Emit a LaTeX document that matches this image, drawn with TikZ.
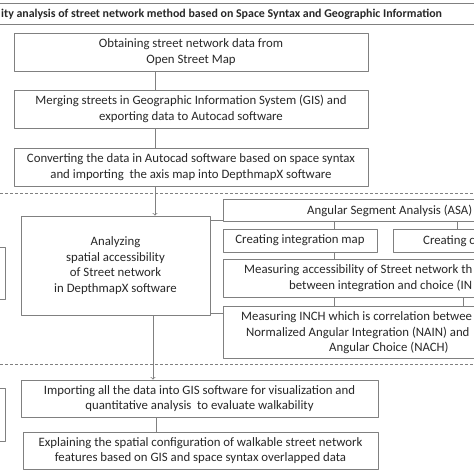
\documentclass[tikz,border=0pt]{standalone}
\usepackage{fontspec}
\setmainfont{Carlito}
\usepackage{tikz}
\usetikzlibrary{arrows,positioning}
\definecolor{edgegray}{RGB}{128,128,128}
\definecolor{inkgray}{RGB}{40,40,40}
\tikzset{
  stagebox/.style={draw=edgegray,line width=0.8pt,fill=white,align=center,text=inkgray,inner sep=0pt,font=\fontsize{12.8}{15.8}\selectfont},
  linetext/.style={text=inkgray,inner sep=0pt,anchor=base west,font=\fontsize{12.8}{15.8}\selectfont},
  flowline/.style={draw=edgegray,line width=0.8pt},
  phaseline/.style={draw=edgegray,line width=0.7pt,dash pattern=on 3pt off 2pt},
}
\begin{document}
\begin{tikzpicture}[x=1pt,y=-1pt,>=to,line join=bevel]

\useasboundingbox (0,0) rectangle (474,474);
\clip (0,0) rectangle (474,474);

\coordinate (spine) at (155,0);

\node[stagebox,minimum width=520pt,minimum height=21pt] (titlebar) at (237,13.5) {};
\node[linetext,font=\fontsize{11.9}{14}\selectfont\bfseries] (titletext) at (1,17.5) {ity analysis of street network method based on Space Syntax and Geographic Information};

\node[stagebox,minimum width=354pt,minimum height=38pt] (osm) at (191,52) {Obtaining street network data from\\Open Street Map};
\node[stagebox,minimum width=354pt,minimum height=38pt] (merge) at (191,109) {Merging streets in Geographic Information System (GIS) and\\exporting data to Autocad software};
\node[stagebox,minimum width=354pt,minimum height=38pt] (convert) at (191,167) {Converting the data in Autocad software based on space syntax\\and importing\ \ the axis map into DepthmapX software};

\draw[phaseline] (-5,193) -- (480,193);
\draw[phaseline] (-5,364) -- (480,364);

\node[stagebox,minimum width=189pt,minimum height=99pt] (analyze) at (115.5,265.5) {Analyzing\\spatial accessibility\\of Street network\\in DepthmapX software};

\node[stagebox,minimum width=337pt,minimum height=22pt] (asa) at (391.5,210) {};
\node[linetext] (asatext) at (307,214) {Angular Segment Analysis (ASA)};

\node[stagebox,minimum width=154pt,minimum height=23pt] (intmap) at (300,240.5) {Creating integration map};
\node[stagebox,minimum width=167pt,minimum height=23pt] (choicemap) at (476.5,240.5) {};
\node[linetext] (choicetext) at (423,244) {Creating c};

\node[stagebox,minimum width=337pt,minimum height=38pt] (access) at (391.5,278) {};
\node[linetext] (accessA) at (244,273.5) {Measuring accessibility of Street network th};
\node[linetext] (accessB) at (289,289.5) {between integration and choice (IN};

\node[stagebox,minimum width=337pt,minimum height=52pt] (inch) at (391.5,332) {};
\node[linetext] (inchA) at (241,320) {Measuring INCH which is correlation betwee};
\node[linetext] (inchB) at (246,336) {Normalized Angular Integration (NAIN) and};
\node[linetext] (inchC) at (329,351.5) {Angular Choice (NACH)};

\node[stagebox,minimum width=357pt,minimum height=37pt] (import) at (199.5,398.5) {Importing all the data into GIS software for visualization and\\quantitative analysis\ \ to evaluate walkability};
\node[stagebox,minimum width=355pt,minimum height=37pt] (explain) at (200.5,450.5) {Explaining the spatial configuration of walkable street network\\features based on GIS and space syntax overlapped data};

\node[stagebox,minimum width=25pt,minimum height=52pt] (sideA) at (-7.5,273) {};
\node[stagebox,minimum width=25pt,minimum height=53pt] (sideB) at (-7.5,414.5) {};

\draw[flowline] (osm.south -| spine) -- (merge.north -| spine);
\draw[flowline] (merge.south -| spine) -- (convert.north -| spine);
\draw[flowline,->] (convert.south -| spine) -- (analyze.north -| spine);
\draw[flowline,->] ([xshift=-2pt]analyze.south -| spine) -- ([xshift=-2pt]import.north -| spine);
\draw[flowline] ([xshift=1pt]import.south -| spine) -- ([xshift=1pt]explain.north -| spine);

\draw[flowline] ([yshift=1pt]analyze.east |- asa.south) -- ([yshift=1pt]asa.south west);
\draw[flowline] ([yshift=2pt]analyze.south east) -- ([yshift=2pt]inch.west |- analyze.south);

\draw[flowline] ([xshift=34pt]intmap.north) -- ([xshift=34pt]intmap.north |- asa.south);
\draw[flowline] ([xshift=-19.5pt]choicemap.north) -- ([xshift=-19.5pt]choicemap.north |- asa.south);
\draw[flowline] ([xshift=34pt]intmap.south) -- ([xshift=34pt]intmap.south |- access.north);
\draw[flowline] ([xshift=-57.5pt]access.south) -- ([xshift=-57.5pt]access.south |- inch.north);
\draw[flowline] ([xshift=71.5pt]access.south) -- ([xshift=71.5pt]access.south |- inch.north);

\end{tikzpicture}
\end{document}
